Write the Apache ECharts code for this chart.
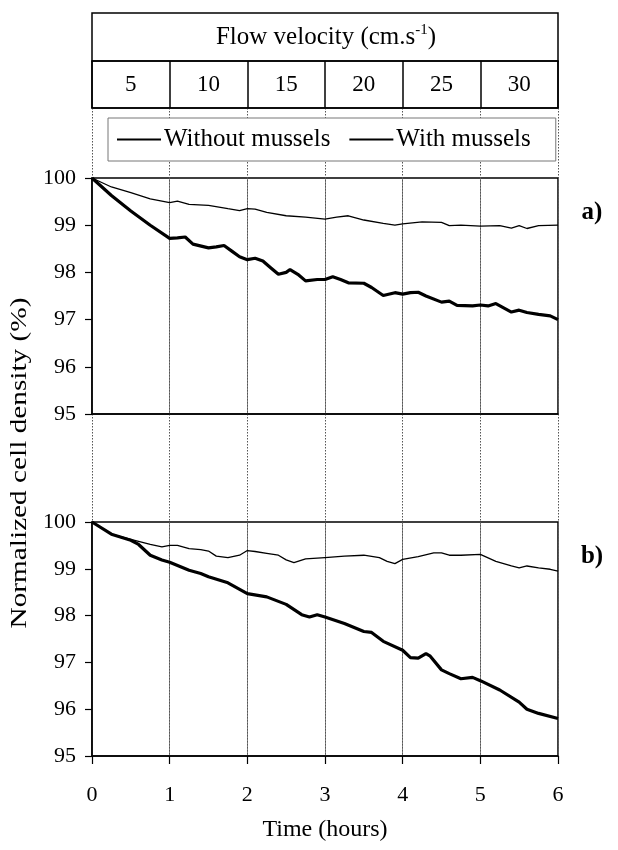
<!DOCTYPE html>
<html>
<head>
<meta charset="utf-8">
<script src="https://cdn.jsdelivr.net/npm/echarts@6/dist/echarts.min.js"></script>
<style>
  html, body { margin: 0; padding: 0; background: #fff; }
  #chart { width: 618px; height: 850px; }
</style>
</head>
<body>
<div id="chart"></div>
<script>
// flow velocity per hour (header row)
var velocities = ['5', '10', '15', '20', '25', '30'];
var yTicks = [95, 96, 97, 98, 99, 100];

// a) without mussels
var tAw = [0, 0.25, 0.5, 0.75, 1, 1.1, 1.25, 1.5, 1.75, 1.9, 2, 2.1, 2.25, 2.5, 2.75, 3, 3.15, 3.3, 3.5, 3.75, 3.9, 4, 4.25, 4.5, 4.6, 4.75, 5, 5.25, 5.4, 5.5, 5.6, 5.75, 6];
var vAw = [100, 99.81, 99.69, 99.56, 99.48, 99.51, 99.44, 99.42, 99.35, 99.31, 99.35, 99.34, 99.27, 99.2, 99.17, 99.13, 99.17, 99.2, 99.11, 99.04, 99.0, 99.03, 99.07, 99.06, 98.99, 99.0, 98.98, 98.99, 98.94, 98.99, 98.93, 98.99, 99.0];
// a) with mussels
var tAm = [0, 0.25, 0.5, 0.75, 1, 1.1, 1.2, 1.3, 1.5, 1.6, 1.7, 1.8, 1.9, 2, 2.1, 2.2, 2.3, 2.4, 2.5, 2.55, 2.65, 2.75, 2.9, 3, 3.1, 3.2, 3.3, 3.5, 3.6, 3.75, 3.9, 4, 4.1, 4.2, 4.3, 4.5, 4.6, 4.7, 4.9, 5, 5.1, 5.2, 5.3, 5.4, 5.5, 5.6, 5.75, 5.9, 6];
var vAm = [100, 99.63, 99.3, 99.0, 98.72, 98.73, 98.75, 98.6, 98.52, 98.54, 98.57, 98.45, 98.33, 98.27, 98.3, 98.24, 98.1, 97.96, 98.0, 98.06, 97.96, 97.82, 97.85, 97.85, 97.91, 97.85, 97.78, 97.77, 97.68, 97.51, 97.57, 97.54, 97.57, 97.58, 97.5, 97.37, 97.39, 97.3, 97.29, 97.31, 97.29, 97.34, 97.25, 97.16, 97.2, 97.15, 97.11, 97.08, 97.0];

// b) without mussels
var tBw = [0, 0.25, 0.5, 0.75, 0.9, 1, 1.1, 1.25, 1.4, 1.5, 1.6, 1.75, 1.9, 2, 2.1, 2.25, 2.4, 2.5, 2.6, 2.75, 3, 3.25, 3.5, 3.7, 3.8, 3.9, 4, 4.2, 4.4, 4.5, 4.6, 4.75, 5, 5.2, 5.4, 5.5, 5.6, 5.75, 5.9, 6];
var vBw = [100, 99.74, 99.63, 99.52, 99.47, 99.5, 99.5, 99.43, 99.41, 99.38, 99.27, 99.24, 99.29, 99.39, 99.37, 99.33, 99.29, 99.19, 99.13, 99.21, 99.24, 99.27, 99.29, 99.24, 99.16, 99.11, 99.2, 99.26, 99.34, 99.34, 99.29, 99.29, 99.31, 99.16, 99.06, 99.02, 99.06, 99.02, 98.99, 98.95];
// b) with mussels
var tBm = [0, 0.25, 0.5, 0.6, 0.75, 0.9, 1, 1.25, 1.4, 1.5, 1.75, 2, 2.25, 2.5, 2.7, 2.8, 2.9, 3, 3.25, 3.5, 3.6, 3.75, 4, 4.1, 4.2, 4.3, 4.35, 4.5, 4.6, 4.75, 4.9, 5, 5.25, 5.5, 5.6, 5.75, 6];
var vBm = [100, 99.74, 99.61, 99.52, 99.29, 99.19, 99.14, 98.97, 98.9, 98.83, 98.7, 98.47, 98.4, 98.24, 98.02, 97.97, 98.02, 97.97, 97.83, 97.66, 97.64, 97.45, 97.26, 97.1, 97.09, 97.19, 97.14, 96.84, 96.76, 96.65, 96.68, 96.61, 96.41, 96.15, 96.0, 95.91, 95.8];

var FONT = "'Liberation Serif', 'Times New Roman', serif";

function pairs(t, v) {
  return t.map(function (x, i) { return [x, v[i]]; });
}

var panelX = function (idx, labels) {
  return {
    gridIndex: idx,
    type: 'value',
    min: 0,
    max: 6,
    interval: 1,
    axisLine: { show: true, onZero: false, lineStyle: { color: '#000', width: 1.5 } },
    axisTick: { show: labels, length: 8, lineStyle: { color: '#000', width: 1.2 } },
    axisLabel: { show: labels, margin: 28, color: '#000', fontFamily: FONT, fontSize: 22 },
    splitLine: { show: true, lineStyle: { color: '#666', width: 0.8 } }
  };
};

var panelY = function (idx) {
  return {
    gridIndex: idx,
    type: 'value',
    min: yTicks[0],
    max: yTicks[yTicks.length - 1],
    interval: 1,
    axisLine: { show: true, lineStyle: { color: '#000', width: 1.5 } },
    axisTick: { show: true, length: 7, lineStyle: { color: '#000', width: 1.2 } },
    axisLabel: { margin: 16, color: '#000', fontFamily: FONT, fontSize: 22 },
    splitLine: { show: false }
  };
};

var option = {
  backgroundColor: '#fff',
  animation: false,
  grid: [
    { left: 92, top: 178, width: 466, height: 236, show: true, borderColor: '#000', borderWidth: 1.5 },
    { left: 92, top: 522, width: 466, height: 234, show: true, borderColor: '#000', borderWidth: 1.5 },
    { left: 92, top: 61, width: 466, height: 47, show: true, borderColor: '#000', borderWidth: 1.5 },
    { left: 92, top: 13, width: 466, height: 48, show: true, borderColor: '#000', borderWidth: 1.5 },
    { left: 92, top: 108, width: 466, height: 648 }
  ],
  xAxis: [
    panelX(0, false),
    Object.assign(panelX(1, true), {
      name: 'Time (hours)',
      nameLocation: 'middle',
      nameGap: 62,
      nameTextStyle: { color: '#000', fontFamily: FONT, fontSize: 24 }
    }),
    {
      gridIndex: 2,
      type: 'category',
      data: velocities,
      axisLine: { show: true, lineStyle: { color: '#000', width: 1.5 } },
      axisTick: { show: false },
      axisLabel: { margin: -35, interval: 0, color: '#000', fontFamily: FONT, fontSize: 23 },
      splitLine: { show: true, interval: 0, lineStyle: { color: '#000', width: 1.5 } }
    },
    { gridIndex: 3, type: 'value', show: false },
    {
      gridIndex: 4,
      type: 'value',
      min: 0,
      max: 6,
      interval: 1,
      axisLine: { show: false },
      axisTick: { show: false },
      axisLabel: { show: false },
      splitLine: { show: true, lineStyle: { color: '#555', width: 1, type: [1.5, 1.5] } }
    }
  ],
  yAxis: [
    panelY(0),
    panelY(1),
    { gridIndex: 2, type: 'value', show: false },
    { gridIndex: 3, type: 'value', show: false },
    { gridIndex: 4, type: 'value', show: false }
  ],
  legend: {
    left: 108,
    top: 118,
    padding: [9, 25, 9, 8],
    itemGap: 18,
    itemWidth: 44,
    itemHeight: 14,
    borderColor: '#777',
    borderWidth: 1,
    backgroundColor: '#fff',
    itemStyle: { opacity: 0 },
    textStyle: { color: '#000', fontFamily: FONT, fontSize: 25, padding: [0, 0, 0, -2] },
    data: ['Without mussels', 'With mussels']
  },
  graphic: [
    {
      type: 'text',
      x: 326,
      y: 37,
      style: {
        text: '{t|Flow velocity (cm.s}{s|-1}{t|)}',
        align: 'center',
        verticalAlign: 'middle',
        fill: '#000',
        rich: {
          t: { fontFamily: FONT, fontSize: 25, lineHeight: 28 },
          s: { fontFamily: FONT, fontSize: 15, lineHeight: 15, verticalAlign: 'top' }
        }
      }
    },
    {
      type: 'text',
      x: 592,
      y: 213,
      style: { text: 'a)', align: 'center', verticalAlign: 'middle', fill: '#000', font: 'bold 25px ' + FONT }
    },
    {
      type: 'text',
      x: 592,
      y: 557,
      style: { text: 'b)', align: 'center', verticalAlign: 'middle', fill: '#000', font: 'bold 25px ' + FONT }
    },
    {
      type: 'text',
      x: 20,
      y: 463,
      rotation: Math.PI / 2,
      scaleX: 1.22,
      style: { text: 'Normalized cell density (%)', align: 'center', verticalAlign: 'middle', fill: '#000', font: '24px ' + FONT }
    }
  ],
  series: [
    { name: 'Without mussels', type: 'line', xAxisIndex: 0, yAxisIndex: 0, symbol: 'none', z: 5,
      lineStyle: { color: '#000', width: 1.3 }, itemStyle: { color: '#000' }, data: pairs(tAw, vAw) },
    { name: 'With mussels', type: 'line', xAxisIndex: 0, yAxisIndex: 0, symbol: 'none', z: 5,
      lineStyle: { color: '#000', width: 3.2 }, itemStyle: { color: '#000' }, data: pairs(tAm, vAm) },
    { name: 'Without mussels', type: 'line', xAxisIndex: 1, yAxisIndex: 1, symbol: 'none', z: 5,
      lineStyle: { color: '#000', width: 1.3 }, itemStyle: { color: '#000' }, data: pairs(tBw, vBw) },
    { name: 'With mussels', type: 'line', xAxisIndex: 1, yAxisIndex: 1, symbol: 'none', z: 5,
      lineStyle: { color: '#000', width: 3.2 }, itemStyle: { color: '#000' }, data: pairs(tBm, vBm) }
  ]
};

var myChart = echarts.init(document.getElementById('chart'));
myChart.setOption(option);
</script>
</body>
</html>
